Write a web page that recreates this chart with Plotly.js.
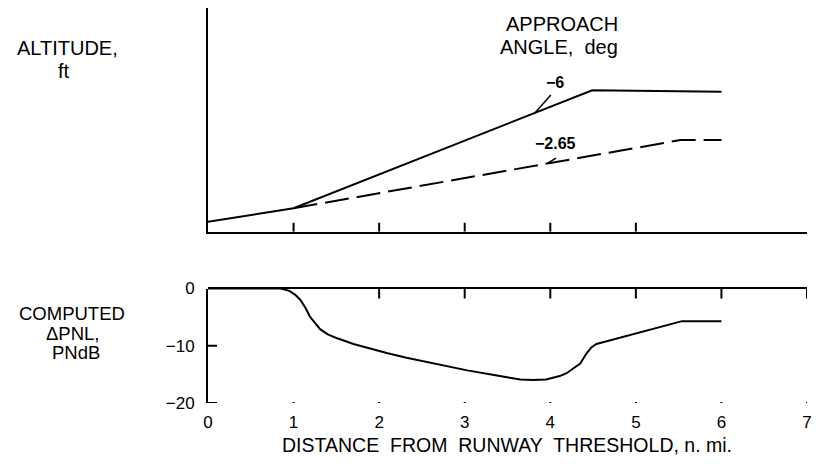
<!DOCTYPE html>
<html>
<head>
<meta charset="utf-8">
<script src="https://cdn.plot.ly/plotly-3.0.1.min.js"></script>
<style>html,body{margin:0;padding:0;background:#fff;}#chart{width:816px;height:464px;}</style>
</head>
<body>
<div id="chart"></div>
<script>
// ---- Data ----
// Altitude profile, approach angle -6 deg
const dist6 = [0, 1.0, 4.49, 6.0];
const alt6 = [190, 445, 2670, 2640];
// Altitude profile, approach angle -2.65 deg
const dist265 = [1.0, 5.52, 6.0];
const alt265 = [445, 1730, 1730];
// Computed delta PNL, PNdB
const pnlDist = [0, 0.85, 0.95, 1.02, 1.08, 1.14, 1.19, 1.25, 1.31, 1.4, 1.51, 1.7, 1.89, 2.1, 2.32, 2.7, 3.03, 3.41, 3.65, 3.8, 3.95, 4.03, 4.11, 4.19, 4.27, 4.35, 4.42, 4.48, 4.54, 5.54, 6.0];
const pnlVal = [0, 0, -0.4, -1.1, -2.0, -3.4, -4.9, -6.1, -7.1, -8.0, -8.7, -9.7, -10.5, -11.3, -12.1, -13.3, -14.3, -15.3, -15.9, -16.0, -15.9, -15.6, -15.3, -14.8, -14.0, -13.1, -11.4, -10.3, -9.7, -5.7, -5.7];
// Tick labels / tick positions
const xTickVals = [0, 1, 2, 3, 4, 5, 6, 7];
const xTickText = ['0', '1', '2', '3', '4', '5', '6', '7'];
const altTicks = [1, 2, 3, 4, 5];
const pnlTopTicks = [2, 3, 4, 5, 6, 7];
const pnlBottomTicks = [1, 2, 3, 4, 5, 6, 7];
const pnlTickVals = [-20, -10, 0];
const pnlTickText = ['\u221220', '\u221210', '0'];
// Curve labels
const labelSolid = '\u22126';
const labelDashed = '\u22122.65';

function interp(xs, ys, x) {
  for (let i = 0; i < xs.length - 1; i++) {
    if (x >= xs[i] && x <= xs[i + 1]) {
      const t = (x - xs[i]) / (xs[i + 1] - xs[i]);
      return ys[i] + t * (ys[i + 1] - ys[i]);
    }
  }
  return ys[ys.length - 1];
}

// ---- Layout geometry ----
const L = 207.7, R = 8.7, T = 8, B = 61.3;
const W = 816, H = 464;
const PW = W - L - R, PH = H - T - B;
const xp = px => (px - L) / PW;
const yp = py => (H - B - py) / PH;

const black = '#000';
const fam = '"Liberation Sans", Arial, Helvetica, sans-serif';

const traces = [
  {x: dist6, y: alt6, xaxis: 'x', yaxis: 'y', mode: 'lines', line: {color: black, width: 2}, hoverinfo: 'skip'},
  {x: dist265, y: alt265, xaxis: 'x', yaxis: 'y', mode: 'lines', line: {color: black, width: 2, dash: '24px,8px'}, hoverinfo: 'skip'},
  {x: pnlDist, y: pnlVal, xaxis: 'x2', yaxis: 'y2', mode: 'lines', line: {color: black, width: 2}, hoverinfo: 'skip'},
  // invisible anchor so the top frame axis of the lower panel is drawn
  {x: [0], y: [0], xaxis: 'x3', yaxis: 'y3', mode: 'markers', marker: {opacity: 0}, hoverinfo: 'skip'}
];

function txt(text, px, py, size, bold) {
  return {text: bold ? '<b>' + text + '</b>' : text, xref: 'paper', yref: 'paper', x: xp(px), y: yp(py), xanchor: 'center', yanchor: 'middle',
          showarrow: false, font: {family: fam, size: size, color: black}};
}
function leader(xs, ys, hx, tx, ty) {
  return {text: ' ', xref: 'x', yref: 'y', x: hx, y: interp(xs, ys, hx), axref: 'x', ayref: 'y', ax: tx, ay: ty,
          showarrow: true, arrowhead: 0, arrowwidth: 1.5, arrowcolor: black, font: {size: 2}};
}

const annotations = [
  txt('ALTITUDE,', 66.7, 48, 20),
  txt('ft', 64, 71, 20),
  txt('APPROACH', 562.5, 24, 20),
  txt('ANGLE,\u00a0 deg', 559, 46.5, 20),
  txt(labelSolid, 555, 82, 16, true),
  txt(labelDashed, 556, 143, 16, true),
  txt('COMPUTED', 71.7, 313, 18.5),
  txt('\u0394PNL,', 73, 333, 18.5),
  txt('PNdB', 76, 352, 18.5),
  txt('DISTANCE\u00a0 FROM\u00a0 RUNWAY\u00a0 THRESHOLD, n.\u00a0mi.', 507, 445, 19.5),
  leader(dist6, alt6, 3.82, 4.03, 2620),
  leader(dist265, alt265, 3.96, 4.09, 1414)
];

// Tick marks drawn as axis-referenced shapes (length in pixels)
const tickLine = {color: black, width: 2};
const shapes = [];
altTicks.forEach(v => shapes.push({type: 'line', xref: 'x', yref: 'y', x0: v, x1: v, ysizemode: 'pixel', yanchor: 0, y0: 0, y1: 9, line: tickLine}));
pnlTopTicks.forEach(v => shapes.push({type: 'line', xref: 'x2', yref: 'y2', x0: v, x1: v, ysizemode: 'pixel', yanchor: 0, y0: 0, y1: -10, line: tickLine}));
pnlBottomTicks.forEach(v => shapes.push({type: 'line', xref: 'x2', yref: 'y2', x0: v, x1: v, ysizemode: 'pixel', yanchor: -20, y0: 1, y1: -8, line: tickLine}));
pnlTickVals.filter(v => v !== 0).forEach(v => shapes.push({type: 'line', xref: 'x2', yref: 'y2', y0: v, y1: v, xsizemode: 'pixel', xanchor: 0, x0: 0, x1: 9, line: tickLine}));

const axBase = {showgrid: false, zeroline: false, linecolor: black, tickcolor: black, tickwidth: 2};
const lowDomain = [0, yp(288.3)];
const layout = {
  width: W, height: H,
  margin: {l: L, r: R, t: T, b: B, pad: 0},
  paper_bgcolor: '#fff', plot_bgcolor: 'rgba(0,0,0,0)',
  showlegend: false,
  font: {family: fam, color: black, size: 17},
  xaxis: Object.assign({}, axBase, {domain: [0, 1], anchor: 'y', range: [0, 7], showline: true, linewidth: 2,
    ticks: '', showticklabels: false}),
  yaxis: Object.assign({}, axBase, {domain: [yp(231.7), 1], anchor: 'x', range: [0, 4220], showline: true, linewidth: 2,
    ticks: '', showticklabels: false}),
  xaxis2: Object.assign({}, axBase, {domain: [0, 1], anchor: 'y2', range: [0, 7], showline: false,
    ticks: '', tickvals: xTickVals, ticktext: xTickText, ticklabelstandoff: 7, tickfont: {family: fam, size: 17}}),
  yaxis2: Object.assign({}, axBase, {domain: lowDomain, anchor: 'x2', range: [-20, 0], showline: true, linewidth: 2,
    ticks: '', tickvals: pnlTickVals, ticktext: pnlTickText, ticklabelstandoff: 8,
    tickfont: {family: fam, size: 17}}),
  // top frame line of the lower panel
  xaxis3: Object.assign({}, axBase, {domain: [0, 1], anchor: 'y3', side: 'top', range: [0, 7], showline: true, linewidth: 2,
    ticks: '', showticklabels: false}),
  yaxis3: {showgrid: false, zeroline: false, showline: false, ticks: '', showticklabels: false, range: [-20, 0], domain: lowDomain, anchor: 'x3'},
  shapes: shapes,
  annotations: annotations
};

Plotly.newPlot('chart', traces, layout, {displayModeBar: false, staticPlot: true});
</script>
</body>
</html>
